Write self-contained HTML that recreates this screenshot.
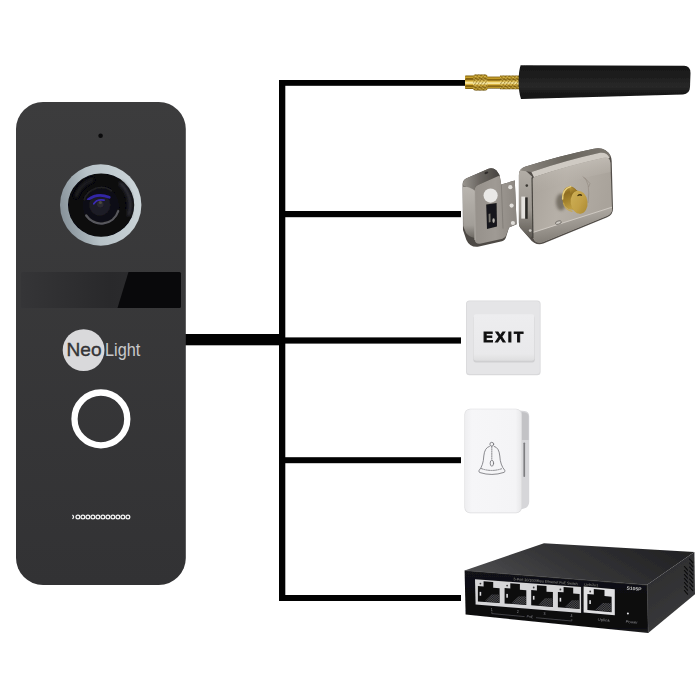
<!DOCTYPE html>
<html lang="en">
<head>
<meta charset="utf-8">
<title>NeoLight wiring diagram</title>
<style>
html,body{margin:0;padding:0;background:#fff;}
body{width:700px;height:700px;overflow:hidden;font-family:"Liberation Sans",sans-serif;}
svg{display:block;}
</style>
</head>
<body>
<svg width="700" height="700" viewBox="0 0 700 700">
<defs>
  <linearGradient id="gPanel" x1="0" y1="0" x2="0" y2="1">
    <stop offset="0" stop-color="#3c3c3d"/>
    <stop offset="1" stop-color="#323234"/>
  </linearGradient>
  <linearGradient id="gRing" x1="0" y1="0.55" x2="1" y2="0.35">
    <stop offset="0" stop-color="#87929a"/>
    <stop offset="0.4" stop-color="#b7c2c7"/>
    <stop offset="1" stop-color="#cdd6da"/>
  </linearGradient>
  <radialGradient id="gLens" cx="0.5" cy="0.5" r="0.5">
    <stop offset="0" stop-color="#1a1a1e"/>
    <stop offset="0.6" stop-color="#101013"/>
    <stop offset="1" stop-color="#060608"/>
  </radialGradient>
  <radialGradient id="gBlue" cx="0.5" cy="0.5" r="0.5">
    <stop offset="0" stop-color="#2a2540"/>
    <stop offset="0.55" stop-color="#3b2fc4"/>
    <stop offset="1" stop-color="#15131f" stop-opacity="0"/>
  </radialGradient>
  <linearGradient id="gWin" x1="0" y1="0" x2="1" y2="0">
    <stop offset="0" stop-color="#353537"/>
    <stop offset="0.55" stop-color="#29292b"/>
    <stop offset="0.9" stop-color="#2d2d2f"/>
    <stop offset="1" stop-color="#3b3b3d"/>
  </linearGradient>
  <filter id="soft" x="-10%" y="-10%" width="120%" height="120%"><feGaussianBlur stdDeviation="0.55"/></filter>
  <filter id="soft2" x="-30%" y="-30%" width="160%" height="160%"><feGaussianBlur stdDeviation="1.6"/></filter>
  <filter id="soft3" x="-10%" y="-10%" width="120%" height="120%"><feGaussianBlur stdDeviation="0.35"/></filter>
  <linearGradient id="gGold" x1="0" y1="0" x2="0" y2="1">
    <stop offset="0" stop-color="#7a5a0c"/>
    <stop offset="0.13" stop-color="#cfa72e"/>
    <stop offset="0.28" stop-color="#8a6710"/>
    <stop offset="0.42" stop-color="#e2bf4e"/>
    <stop offset="0.55" stop-color="#fff4b8"/>
    <stop offset="0.67" stop-color="#d6ac34"/>
    <stop offset="0.8" stop-color="#8c6912"/>
    <stop offset="0.9" stop-color="#c29c2a"/>
    <stop offset="1" stop-color="#5e4408"/>
  </linearGradient>
  <pattern id="pKnurl" width="2.6" height="2.6" patternUnits="userSpaceOnUse" patternTransform="rotate(35)">
    <rect width="2.6" height="2.6" fill="none"/>
    <rect width="1.1" height="2.6" fill="#6a4c06" opacity="0.55"/>
    <rect width="2.6" height="0.9" fill="#fff0a0" opacity="0.35"/>
  </pattern>
  <linearGradient id="gAnt" x1="0" y1="0" x2="0" y2="1">
    <stop offset="0" stop-color="#161616"/>
    <stop offset="0.35" stop-color="#1e1e1e"/>
    <stop offset="0.62" stop-color="#292929"/>
    <stop offset="0.8" stop-color="#1a1a1a"/>
    <stop offset="1" stop-color="#101010"/>
  </linearGradient>
  <linearGradient id="gLockFace" x1="0" y1="0" x2="1" y2="0.25">
    <stop offset="0" stop-color="#a8a29a"/>
    <stop offset="0.45" stop-color="#b6b0a8"/>
    <stop offset="1" stop-color="#a9a39b"/>
  </linearGradient>
  <linearGradient id="gLockTop" x1="0" y1="0" x2="1" y2="0">
    <stop offset="0" stop-color="#8b867f"/>
    <stop offset="0.5" stop-color="#6a665f"/>
    <stop offset="1" stop-color="#7b766f"/>
  </linearGradient>
  <linearGradient id="gLockSide" x1="0" y1="0" x2="0" y2="1">
    <stop offset="0" stop-color="#b4afa8"/>
    <stop offset="0.6" stop-color="#9a958e"/>
    <stop offset="1" stop-color="#5d5953"/>
  </linearGradient>
  <linearGradient id="gBrassSide" x1="0.3" y1="0" x2="0.5" y2="1">
    <stop offset="0" stop-color="#b8963a"/>
    <stop offset="0.25" stop-color="#8f6e22"/>
    <stop offset="0.6" stop-color="#a5842e"/>
    <stop offset="1" stop-color="#c4a347"/>
  </linearGradient>
  <linearGradient id="gBrassFace" x1="0" y1="0" x2="1" y2="1">
    <stop offset="0" stop-color="#cfb158"/>
    <stop offset="0.55" stop-color="#c2a046"/>
    <stop offset="1" stop-color="#a88730"/>
  </linearGradient>
  <linearGradient id="gStrikeFront" x1="0" y1="0" x2="1" y2="0">
    <stop offset="0" stop-color="#96918b"/>
    <stop offset="0.5" stop-color="#9f9a94"/>
    <stop offset="1" stop-color="#8c8781"/>
  </linearGradient>
  <linearGradient id="gStrikeSide" x1="0" y1="0" x2="0" y2="1">
    <stop offset="0" stop-color="#b9b5af"/>
    <stop offset="0.75" stop-color="#a29e98"/>
    <stop offset="1" stop-color="#6c6862"/>
  </linearGradient>
  <linearGradient id="gStrikeTop" x1="0" y1="0" x2="1" y2="0">
    <stop offset="0" stop-color="#98948e"/>
    <stop offset="0.45" stop-color="#6a6661"/>
    <stop offset="1" stop-color="#46433f"/>
  </linearGradient>
  <linearGradient id="gExitBtn" x1="0" y1="0" x2="0" y2="1">
    <stop offset="0" stop-color="#ededef"/>
    <stop offset="0.85" stop-color="#e9e9eb"/>
    <stop offset="1" stop-color="#dededf"/>
  </linearGradient>
  <linearGradient id="gBellFront" x1="0" y1="0" x2="1" y2="0">
    <stop offset="0" stop-color="#eeeef0"/>
    <stop offset="0.12" stop-color="#f6f6f8"/>
    <stop offset="0.9" stop-color="#f4f4f6"/>
    <stop offset="1" stop-color="#e8e8ea"/>
  </linearGradient>
  <linearGradient id="gSwTop" x1="0" y1="0.6" x2="1" y2="0.3">
    <stop offset="0" stop-color="#4c4c4e"/>
    <stop offset="0.4" stop-color="#363638"/>
    <stop offset="1" stop-color="#212123"/>
  </linearGradient>
  <linearGradient id="gSwSide" x1="0" y1="0" x2="0.4" y2="1">
    <stop offset="0" stop-color="#29292b"/>
    <stop offset="1" stop-color="#3a3a3c"/>
  </linearGradient>
  <linearGradient id="gSwFront" x1="0" y1="0" x2="0" y2="1">
    <stop offset="0" stop-color="#121214"/>
    <stop offset="0.9" stop-color="#0b0b0d"/>
    <stop offset="1" stop-color="#202022"/>
  </linearGradient>
  <pattern id="pPins" width="1.3" height="1.3" patternUnits="userSpaceOnUse" patternTransform="rotate(-40)">
    <rect width="1.3" height="1.3" fill="#1c1c1e"/>
    <rect width="0.6" height="1.3" fill="#505053"/>
  </pattern>
  <linearGradient id="gLockHi" x1="0" y1="0" x2="0.25" y2="1">
    <stop offset="0" stop-color="#cbc6bf" stop-opacity="0.95"/>
    <stop offset="1" stop-color="#b2aca4" stop-opacity="0"/>
  </linearGradient>
  <linearGradient id="gLockLow" x1="0" y1="0" x2="0.3" y2="1">
    <stop offset="0" stop-color="#bdb8b1"/>
    <stop offset="0.45" stop-color="#a39e97"/>
    <stop offset="1" stop-color="#807b74"/>
  </linearGradient>
</defs>
<rect width="700" height="700" fill="#ffffff"/>

<!-- WIRES -->
<g id="wires" fill="#020202">
  <rect x="279" y="80" width="6.3" height="521"/>
  <rect x="279" y="80" width="187" height="5.8"/>
  <rect x="279" y="211" width="182" height="6.2"/>
  <rect x="279" y="337.4" width="182" height="6.2"/>
  <rect x="279" y="457.2" width="182" height="6"/>
  <rect x="279" y="595" width="182" height="6"/>
  <rect x="184" y="334" width="96" height="11.3"/>
</g>

<!-- DOOR PANEL -->
<g id="panel">
  <rect x="16" y="102" width="169.8" height="483" rx="27" ry="27" fill="url(#gPanel)"/>
  <circle cx="100.6" cy="135.7" r="2.3" fill="#0b0b0c"/>
  <!-- camera -->
  <circle cx="100.7" cy="205" r="40.7" fill="url(#gRing)"/>
  <g filter="url(#soft)">
    <ellipse cx="101.1" cy="205.1" rx="33.1" ry="31.7" fill="#070709"/>
    <path d="M121 184 A29 29 0 0 1 129 214" fill="none" stroke="#2c2c30" stroke-width="5" stroke-linecap="round" filter="url(#soft2)"/>
    <path d="M76 196 A27 27 0 0 1 92 180" fill="none" stroke="#1d1d20" stroke-width="4" stroke-linecap="round" filter="url(#soft2)"/>
    <circle cx="100.8" cy="205.8" r="18.4" fill="#111114"/>
    <path d="M86.2 215.5 A18 18 0 0 0 118.3 211" fill="none" stroke="#58585d" stroke-width="2.3" stroke-linecap="round"/>
    <path d="M84 200 A18 18 0 0 1 112 191" fill="none" stroke="#202024" stroke-width="1.6"/>
    <circle cx="99.8" cy="205" r="10.5" fill="#1c1a26"/>
    <path d="M88.3 199.5 Q97.5 192.6 109.2 197.3" fill="none" stroke="#3125a6" stroke-width="2.8" stroke-linecap="round" filter="url(#soft)"/>
    <path d="M93.8 203.8 Q97 198.8 104 200.2" fill="none" stroke="#3a2cb4" stroke-width="1.8" stroke-linecap="round" filter="url(#soft)"/>
    <circle cx="100.3" cy="204.2" r="3.2" fill="#2c2b30"/>
    <circle cx="100.4" cy="202.6" r="1.5" fill="#4d4c40"/>
  </g>
  <!-- IR window -->
  <rect x="21" y="272" width="160" height="36" rx="1.5" fill="url(#gWin)"/>
  <path d="M128.5 272 H179.5 Q181 272 181 273.5 V306.5 Q181 308 179.5 308 H117.5 Z" fill="#09090b"/>
  <!-- logo -->
  <circle cx="83.6" cy="350.1" r="20.9" fill="#d9d9db"/>
  <text x="66.6" y="355.7" font-family="'Liberation Sans',sans-serif" font-size="18.2" fill="#343436" stroke="#343436" stroke-width="0.35" textLength="35" lengthAdjust="spacingAndGlyphs">Neo</text>
  <text x="105" y="355.7" font-family="'Liberation Sans',sans-serif" font-size="18.2" fill="#c9c9cb" textLength="35.3" lengthAdjust="spacingAndGlyphs">Light</text>
  <!-- button -->
  <circle cx="100.9" cy="418.9" r="26.4" fill="none" stroke="#ffffff" stroke-width="6.3"/>
  <!-- speaker -->
  <g fill="none" stroke="#f4f4f4" stroke-width="1.25" filter="url(#soft3)">
    <path d="M72.3 515.1 A1.9 1.9 0 0 1 72.3 518.7"/><circle cx="77.9" cy="516.9" r="1.9"/><circle cx="82.9" cy="516.9" r="1.9"/><circle cx="87.9" cy="516.9" r="1.9"/><circle cx="92.9" cy="516.9" r="1.9"/><circle cx="97.9" cy="516.9" r="1.9"/><circle cx="102.9" cy="516.9" r="1.9"/><circle cx="107.9" cy="516.9" r="1.9"/><circle cx="112.9" cy="516.9" r="1.9"/><circle cx="117.9" cy="516.9" r="1.9"/><circle cx="122.9" cy="516.9" r="1.9"/><circle cx="127.9" cy="516.9" r="1.9"/>
  </g>
</g>

<!-- ANTENNA -->
<g id="antenna" filter="url(#soft3)">
  <rect x="465" y="75.6" width="9" height="13.4" rx="0.8" fill="url(#gGold)"/>
  <rect x="466" y="78" width="7" height="1.3" fill="#6a4c06" opacity="0.6"/>
  <rect x="466" y="85.2" width="7" height="1.3" fill="#6a4c06" opacity="0.6"/>
  <rect x="486.5" y="76.6" width="14" height="12" fill="url(#gGold)"/>
  <rect x="487" y="79.2" width="13" height="1" fill="#735409" opacity="0.6"/>
  <rect x="487" y="85.6" width="13" height="1" fill="#735409" opacity="0.6"/>
  <rect x="500" y="75.6" width="20" height="13.6" fill="url(#gGold)"/>
  <rect x="500" y="75.6" width="20" height="13.6" fill="url(#pKnurl)"/>
  <rect x="473" y="74.4" width="14.6" height="16.2" rx="2.4" fill="url(#gGold)"/>
  <rect x="473" y="74.4" width="14.6" height="16.2" rx="2.4" fill="url(#pKnurl)"/>
  <path d="M520.6 65.2 L684 65.8 Q690.6 66.2 690.5 73 L690 87 Q689.8 94 683 94.4 L521 99 Q518.6 92 518.6 82 Q518.6 71 520.6 65.2 Z" fill="url(#gAnt)"/>
</g>
<!-- LOCK -->
<g id="lock" filter="url(#soft3)">
  <!-- strike piece -->
  <g id="strike">
    <!-- silhouette / dark bottom -->
    <path d="M462.6 185 Q462.4 180 466.6 178.2 L488.5 168.7 Q493 167.4 496.5 170.5 L499.6 175 L501.2 184.4 L514.8 180.6 L516.6 224.3 L509 227.6 L506.2 236.5 Q505.6 240 502 241.3 L479 246.6 Q470 248 466.4 240 L463 230 Z" fill="#4d4944"/>
    <!-- top face -->
    <path d="M462.8 185.4 Q462.6 180 466.6 178.2 L488.5 168.7 Q493 167.4 496.5 170.5 L499.6 175.4 L478 185 Q474.6 186.6 474.4 190 Z" fill="url(#gStrikeTop)"/>
    <!-- left side face -->
    <path d="M462.8 186.6 Q468 186.4 474.4 190 L474.8 238 Q469 237 466 233 L463.2 226 Z" fill="url(#gStrikeSide)"/>
    <!-- front face incl. plate -->
    <path d="M474.4 190.5 Q474.5 186.5 478 185 L499.6 175.4 L501.2 184.4 L514.8 180.6 L516.6 224.3 L509 227.6 L506.2 235 Q505.6 238 502.5 238.8 L481 243.6 Q475 244.3 474.8 240 Z" fill="url(#gStrikeFront)"/>
    <path d="M474.6 190.5 L475 240" stroke="#b5b1ab" stroke-width="1" fill="none"/>
    <path d="M501.4 185 L503 228.6" stroke="#7a7670" stroke-width="0.7" fill="none"/>
    <circle cx="490.6" cy="195.6" r="7.1" fill="#e9e8e6"/>
    <path d="M486.2 204.6 L496.6 203 L497 226.6 L487 229 Z" fill="#19181a"/>
    <path d="M488.6 214 L490.4 213.6 L490.6 222 L488.8 222.4 Z" fill="#77746f"/>
    <ellipse cx="493.6" cy="220.6" rx="1.2" ry="2.4" fill="#b5b2ad"/>
    <circle cx="510.3" cy="187.2" r="2.1" fill="#e2e0dc"/>
    <circle cx="511.6" cy="205.6" r="2.1" fill="#e2e0dc"/>
    <circle cx="512.9" cy="223" r="2.1" fill="#e2e0dc"/>
    <ellipse cx="486.4" cy="172.8" rx="2" ry="1.1" fill="#2e2c29" transform="rotate(-22 486.4 172.8)"/>
  </g>
  <!-- main body -->
  <g id="lockbody">
    <path d="M518.9 175 Q518.8 168.6 525 166.8 Q560 155.6 594 148.7 Q605.5 146.4 610.6 156 Q611.6 158 611.7 161 L613 208.5 Q613.2 214.6 607.2 217.2 L543.4 243.6 Q535 246 529.6 238.4 L520.4 228 Q518.9 226 518.9 223 Z" fill="#524e49"/>
    <!-- left side face -->
    <path d="M518.9 175 Q518.8 170 523 168.2 L532 176.5 L532.4 236 L530 238 L520.4 228 Q518.9 226 518.9 223 Z" fill="url(#gLockSide)"/>
    <rect x="521.3" y="196.6" width="4" height="22" fill="#e4e2de"/>
    <rect x="525.2" y="197.4" width="2.5" height="21.4" fill="#2b2926"/>
    <circle cx="526.8" cy="185.6" r="1.3" fill="#3a3733"/>
    <circle cx="530.2" cy="230.6" r="1.4" fill="#c9c6c1"/>
    <!-- top bevel -->
    <path d="M520.5 170.5 Q521.6 167.8 525 166.8 Q560 155.6 594 148.7 Q605.5 146.4 610.6 156 L609 159 L600 152.8 Q565 160.6 531.4 172 Z" fill="url(#gLockTop)"/>
    <!-- highlight band -->
    <path d="M531.4 172 Q565 160.6 600 152.8 Q607 152 609.6 158 L604 158 Q568 166 534 177.2 Z" fill="#cfcac3"/>
    <!-- front face -->
    <path d="M532.2 181 Q532 177.8 535 176.8 Q568 165.6 603.6 157.8 Q609.8 156.6 610.4 163 L612 208.6 Q612.1 213.6 607.4 215.8 L543 242 Q534 244.4 533 236.5 Z" fill="url(#gLockFace)"/>
    <path d="M532.2 181 Q532 177.8 535 176.8 Q568 165.6 603.6 157.8 Q609.8 156.6 610.4 163 L610.6 172 Q570 180 532.4 193 Z" fill="url(#gLockHi)"/>
    <!-- lower band -->
    <path d="M533.1 232.6 L612 207.4 L612.1 209 Q612 213.6 607.4 215.8 L543 242 Q534.6 244.2 533.2 237 Z" fill="url(#gLockLow)"/>
    <path d="M533.1 232.4 L612 207.2" stroke="#d2cdc6" stroke-width="0.9" fill="none"/>
    <!-- left dark edge line -->
    <path d="M532 177.5 L533 238" stroke="#45423d" stroke-width="1.1" fill="none"/>
    <!-- engraved logo -->
    <path d="M582.6 176.4 Q591 181 588 203 M584.4 177.4 L590 183.6 L588.6 187" stroke="#8d857a" stroke-width="0.55" fill="none"/>
    <!-- small indicator -->
    <ellipse cx="558.4" cy="222.6" rx="3" ry="1.6" fill="#cfcbc5" stroke="#5e5a55" stroke-width="0.7" transform="rotate(-18 558.4 222.6)"/>
    <!-- brass cylinder -->
    <ellipse cx="561" cy="202" rx="5" ry="8.6" fill="#50483c" opacity="0.6" filter="url(#soft2)"/>
    <ellipse cx="570.7" cy="198" rx="8.6" ry="11.7" fill="url(#gBrassSide)" transform="rotate(-8 570.7 198)"/>
    <path d="M569.2 186.4 L577.6 190.8 L580.6 213.8 L572.4 209.6 Z" fill="url(#gBrassSide)"/>
    <path d="M562.6 199 Q562.4 189 570.6 186.6" fill="none" stroke="#e8d080" stroke-width="1.5" stroke-linecap="round"/>
    <path d="M563.4 203 Q565 209.4 572 211.4" fill="none" stroke="#caa94a" stroke-width="1.2" stroke-linecap="round" opacity="0.8"/>
    <ellipse cx="579.1" cy="202.3" rx="8.4" ry="11.6" fill="url(#gBrassFace)" transform="rotate(-8 579.1 202.3)"/>
    <path d="M577.2 195.4 q2.6 -2.3 5 -0.5 l-0.5 1.1 q-2 -1.3 -4 0.3 Z" fill="#3a2d0a"/>
  </g>
</g>
<!-- EXIT BUTTON -->
<g id="exit" filter="url(#soft3)">
  <rect x="466" y="300.6" width="74.6" height="74.6" rx="3.5" fill="#d9d9db"/>
  <rect x="466.8" y="301.3" width="73" height="72.6" rx="3" fill="#e5e5e7"/>
  <rect x="473.4" y="315.4" width="61.4" height="47" rx="2.6" fill="#cfcfd1"/>
  <rect x="473.6" y="314.3" width="60.8" height="46.4" rx="2.4" fill="url(#gExitBtn)"/>
  <text x="482.9" y="341.9" font-family="'Liberation Sans',sans-serif" font-weight="bold" font-size="15.2" fill="#111112" stroke="#111112" stroke-width="0.9" letter-spacing="2.25">EXIT</text>
</g>
<!-- DOORBELL -->
<g id="bell" filter="url(#soft3)">
  <path d="M519 410.6 L524.6 411 Q529 411.6 529.2 416 L529.2 502 Q529 507.4 524 508.6 L519 510 Z" fill="#d6d6d9"/>
  <path d="M521.6 412 L525 412.4 Q528.4 413 528.6 416.6 L528.6 440 L521.6 440 Z" fill="#c3c3c6"/>
  <rect x="523.4" y="442.4" width="1.7" height="34.6" rx="0.8" fill="#7d7d80"/>
  <rect x="464.4" y="408.8" width="57.4" height="104.4" rx="5.6" fill="#dcdcde"/>
  <rect x="465" y="409.2" width="56.2" height="103.2" rx="5.2" fill="url(#gBellFront)"/>
  <g fill="none" stroke="#6f6f73" stroke-width="0.8" stroke-linecap="round" stroke-linejoin="round">
    <circle cx="491.8" cy="444.2" r="1.9"/>
    <path d="M489.4 446.4 Q484.6 447.6 483.8 456 Q483.4 465.4 479 470.6 Q478.4 472 480 472.6 Q491.8 476.4 504 472.4 Q505.4 471.8 504.8 470.4 Q500.2 465 499.8 456 Q499 447.4 494.2 446.4"/>
    <path d="M491.8 446.4 L491.8 460" stroke-dasharray="1.2 1.1"/>
    <ellipse cx="491.9" cy="463.2" rx="1.7" ry="3"/>
    <path d="M481.4 468.6 Q491.8 472.4 502.6 468.4" stroke-dasharray="1.3 1.1"/>
  </g>
</g>
<!-- SWITCH -->
<g id="switch" filter="url(#soft3)">
  <!-- top -->
  <path d="M464.6 570.4 L544 543.2 L694.4 552 L647.2 584.8 Z" fill="url(#gSwTop)"/>
  <!-- right side -->
  <path d="M647.2 584.8 L694.4 552 L695 594.2 L648.2 633 Z" fill="url(#gSwSide)"/>
  <!-- front -->
  <path d="M464.6 570.4 L647.2 584.8 L648.2 633 L465.6 614.6 Z" fill="url(#gSwFront)"/>
  <path d="M464.8 570.6 L647.2 585" stroke="#4a4a4c" stroke-width="0.6" fill="none"/>
  <path d="M647.3 585 L648.2 633" stroke="#3e3e40" stroke-width="0.6" fill="none"/>
  <!-- vents -->
  <g stroke="#0a0a0b" stroke-width="1.1" stroke-linecap="round">
    <path d="M684.4 566.5 l3.2 3.6 M684.4 570.5 l3.2 3.6 M684.4 574.5 l3.2 3.6 M684.4 578.5 l3.2 3.6 M684.4 582.5 l3.2 3.6 M684.4 586.5 l3.2 3.6 M684.4 590.5 l3.2 3.6"/>
    <path d="M689.6 559 l3.2 3.6 M689.6 563 l3.2 3.6 M689.6 567 l3.2 3.6 M689.6 571 l3.2 3.6 M689.6 575 l3.2 3.6 M689.6 579 l3.2 3.6 M689.6 583 l3.2 3.6 M689.6 587 l3.2 3.6"/>
  </g>
  <!-- ports -->
  <path d="M475 579.2 L581.6 587.0 L581.6 612.9 L475.6 604.5 Z" fill="#d6d6d8"/>
  <path d="M477.9 586.0 L483.6 586.4 L483.6 581.2 L493.2 581.9 L493.2 587.7 L499.6 588.2 L499.6 603.0 L477.9 601.4 Z" fill="#0d0d0f"/><path d="M491.5 594.4 L499.2 594.4 L499.2 602.6 L484.6 601.5 Z" fill="url(#pPins)"/><circle cx="480.4" cy="583.6" r="0.9" fill="#3a3a3c"/><rect x="479.6" y="591.9" width="1.6" height="3.8" fill="#dcdcde"/>
  <path d="M504.6 588.0 L510.3 588.4 L510.3 583.2 L519.9 583.9 L519.9 589.7 L526.3 590.2 L526.3 605.0 L504.6 603.4 Z" fill="#0d0d0f"/><path d="M518.2 596.4 L525.9 596.3 L525.9 604.5 L511.3 603.5 Z" fill="url(#pPins)"/><circle cx="507.1" cy="585.6" r="0.9" fill="#3a3a3c"/><rect x="506.3" y="593.9" width="1.6" height="3.8" fill="#dcdcde"/>
  <path d="M531.2 589.9 L536.9 590.4 L536.9 585.2 L546.5 585.9 L546.5 591.7 L552.9 592.1 L552.9 606.9 L531.2 605.3 Z" fill="#0d0d0f"/><path d="M544.8 598.3 L552.5 598.3 L552.5 606.5 L537.9 605.4 Z" fill="url(#pPins)"/><circle cx="533.7" cy="587.5" r="0.9" fill="#3a3a3c"/><rect x="532.9" y="595.9" width="1.6" height="3.8" fill="#dcdcde"/>
  <path d="M557.9 591.9 L563.6 592.3 L563.6 587.1 L573.2 587.8 L573.2 593.6 L579.6 594.1 L579.6 608.9 L557.9 607.3 Z" fill="#0d0d0f"/><path d="M571.5 600.3 L579.2 600.3 L579.2 608.5 L564.6 607.4 Z" fill="url(#pPins)"/><circle cx="560.4" cy="589.5" r="0.9" fill="#3a3a3c"/><rect x="559.6" y="597.8" width="1.6" height="3.8" fill="#dcdcde"/>
  <path d="M583.6 586.6 L614.8 589.3 L614.8 615.3 L583.6 612.5 Z" fill="#e0e0e2"/>
  <path d="M587.4 594.0 L593.8 594.5 L593.8 589.1 L604.5 590.0 L604.5 596.1 L611.6 596.7 L611.6 612.2 L587.4 610.1 Z" fill="#0d0d0f"/><path d="M602.6 603.0 L611.1 603.2 L611.1 611.7 L594.9 610.3 Z" fill="url(#pPins)"/><circle cx="590.2" cy="591.5" r="0.9" fill="#3a3a3c"/><rect x="589.3" y="600.2" width="1.6" height="3.8" fill="#dcdcde"/>
  <path d="M581.9 587 L581.9 613" stroke="#151517" stroke-width="1.6"/>
  <!-- labels -->
  <g font-family="'Liberation Sans',sans-serif" fill="#8e8e90">
    <text x="513.6" y="580.2" font-size="3.6" transform="rotate(4.4 513.6 580.2)" textLength="64" lengthAdjust="spacingAndGlyphs">5-Port 10/100Mbps Ethernet PoE Switch</text>
    <text x="584.2" y="585.4" font-size="3.5" transform="rotate(4.6 584.2 585.4)" textLength="13.6" lengthAdjust="spacingAndGlyphs">Link/Act</text>
    <text x="626.4" y="589.6" font-size="4.6" font-weight="bold" fill="#c4c4c6" transform="rotate(4.8 626.4 589.6)" textLength="15" lengthAdjust="spacingAndGlyphs">S105P</text>
    <text x="490.8" y="610.8" font-size="3.6">1</text>
    <text x="516.8" y="612.8" font-size="3.6">2</text>
    <text x="543.6" y="615.2" font-size="3.6">3</text>
    <text x="570.6" y="617.4" font-size="3.6">4</text>
    <text x="526.6" y="617.6" font-size="3.4" transform="rotate(5 526.6 617.6)">PoE</text>
    <text x="597.6" y="620.8" font-size="3.8" transform="rotate(5 597.6 620.8)" textLength="12" lengthAdjust="spacingAndGlyphs">Uplink</text>
    <text x="625.4" y="622.8" font-size="3.8" transform="rotate(5 625.4 622.8)" textLength="12.4" lengthAdjust="spacingAndGlyphs">Power</text>
  </g>
  <path d="M491.8 611.6 L491.8 613.6 L524.6 616.6 M536 617.7 L571.8 621 L571.8 619" fill="none" stroke="#77777a" stroke-width="0.5"/>
  <circle cx="627.9" cy="613.4" r="1" fill="#e8e8ea"/>
</g>
<!--DEVICES-->
</svg>
</body>
</html>
